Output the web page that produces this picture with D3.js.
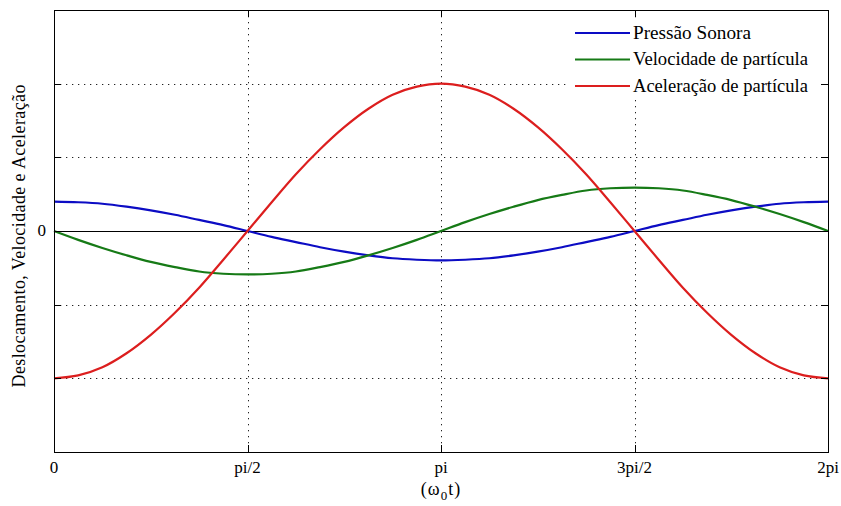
<!DOCTYPE html>
<html>
<head>
<meta charset="utf-8">
<script src="https://cdn.jsdelivr.net/npm/d3@7"></script>
<style>
  html, body { margin: 0; padding: 0; background: #fff; }
</style>
</head>
<body>
<svg id="chart" width="841" height="506"></svg>
<script>
/* Phase (in units of pi) and the three curves */
var phase = [0, 0.0625, 0.125, 0.1875, 0.25, 0.3125, 0.375, 0.4375, 0.5,
             0.5625, 0.625, 0.6875, 0.75, 0.8125, 0.875, 0.9375, 1,
             1.0625, 1.125, 1.1875, 1.25, 1.3125, 1.375, 1.4375, 1.5,
             1.5625, 1.625, 1.6875, 1.75, 1.8125, 1.875, 1.9375, 2];
var pressao = [0.40, 0.39, 0.37, 0.33, 0.28, 0.22, 0.15, 0.08, 0,
               -0.08, -0.15, -0.22, -0.28, -0.33, -0.37, -0.39, -0.40,
               -0.39, -0.37, -0.33, -0.28, -0.22, -0.15, -0.08, 0,
               0.08, 0.15, 0.22, 0.28, 0.33, 0.37, 0.39, 0.40];
var velocidade = [0, -0.12, -0.23, -0.33, -0.42, -0.49, -0.55, -0.58, -0.59,
                  -0.58, -0.55, -0.49, -0.42, -0.33, -0.23, -0.12, 0,
                  0.12, 0.23, 0.33, 0.42, 0.49, 0.55, 0.58, 0.59,
                  0.58, 0.55, 0.49, 0.42, 0.33, 0.23, 0.12, 0];
var aceleracao = [-2, -1.96, -1.85, -1.66, -1.41, -1.11, -0.77, -0.39, 0,
                  0.39, 0.77, 1.11, 1.41, 1.66, 1.85, 1.96, 2,
                  1.96, 1.85, 1.66, 1.41, 1.11, 0.77, 0.39, 0,
                  -0.39, -0.77, -1.11, -1.41, -1.66, -1.85, -1.96, -2];

var xTicks = [0, 0.5, 1, 1.5, 2];
var xTickLabels = ['0', 'pi/2', 'pi', '3pi/2', '2pi'];
var yTicks = [-2, -1, 0, 1, 2];
var yTickLabels = ['', '', '0', '', ''];

var seriesNames = ['Pressão Sonora', 'Velocidade de partícula', 'Aceleração de partícula'];
var seriesData = [pressao, velocidade, aceleracao];
var seriesColors = ['#0c0cc4', '#167a16', '#dc1e1e'];

(function () {
  'use strict';

  var FONT = 'Liberation Serif';
  var box = { left: 54, right: 828, top: 10, bottom: 452 };
  var svg = d3.select('#chart');

  var x = d3.scaleLinear().domain([0, 2]).range([box.left, box.right]);
  var y = d3.scaleLinear().domain([-3, 3]).range([box.bottom, box.top]);

  function label(sel) {
    return sel.attr('font-family', FONT).attr('fill', '#000');
  }

  /* ---- dotted grid -------------------------------------------------------- */
  var grid = svg.append('g').attr('stroke', '#222').attr('stroke-width', 1)
    .attr('stroke-dasharray', '1.3 4.7');
  grid.selectAll('line.gx').data(xTicks.slice(1, -1)).enter().append('line')
    .attr('x1', function (d) { return Math.round(x(d)) + 0.5; })
    .attr('x2', function (d) { return Math.round(x(d)) + 0.5; })
    .attr('y1', box.top).attr('y2', box.bottom);
  grid.selectAll('line.gy').data(yTicks).enter().append('line')
    .attr('y1', function (d) { return Math.round(y(d)) + 0.5; })
    .attr('y2', function (d) { return Math.round(y(d)) + 0.5; })
    .attr('x1', box.left).attr('x2', box.right);

  /* ---- zero line ---------------------------------------------------------- */
  svg.append('line')
    .attr('x1', box.left).attr('x2', box.right)
    .attr('y1', Math.round(y(0)) + 0.5).attr('y2', Math.round(y(0)) + 0.5)
    .attr('stroke', '#000').attr('stroke-width', 1);

  /* ---- curves ------------------------------------------------------------- */
  var line = d3.line()
    .x(function (d, i) { return x(phase[i]); })
    .y(function (d) { return y(d); })
    .curve(d3.curveCatmullRom);

  var plot = svg.append('g');
  seriesData.forEach(function (vals, k) {
    plot.append('path').datum(vals)
      .attr('d', line)
      .attr('fill', 'none')
      .attr('stroke', seriesColors[k])
      .attr('stroke-width', 2.2);
  });

  /* ---- legend (white, borderless, over the grid) -------------------------- */
  var lg = svg.append('g');
  lg.append('rect')
    .attr('x', 568).attr('y', 18).attr('width', 256).attr('height', 80)
    .attr('fill', '#fff');
  var nameLen = [118, 175, 175];
  seriesNames.forEach(function (name, k) {
    var ly = 33 + k * 26.5;
    lg.append('line')
      .attr('x1', 575).attr('x2', 630).attr('y1', ly).attr('y2', ly)
      .attr('stroke', seriesColors[k]).attr('stroke-width', 2.2);
    label(lg.append('text'))
      .attr('x', 633).attr('y', ly + 5.5)
      .attr('font-size', 18)
      .attr('textLength', nameLen[k]).attr('lengthAdjust', 'spacingAndGlyphs')
      .text(name);
  });

  /* ---- axes box with inward ticks ----------------------------------------- */
  var ax = svg.append('g').attr('stroke', '#000').attr('stroke-width', 1);
  ax.append('rect')
    .attr('x', box.left + 0.5).attr('y', box.top + 0.5)
    .attr('width', box.right - box.left).attr('height', box.bottom - box.top)
    .attr('fill', 'none');
  xTicks.forEach(function (d) {
    var px = Math.round(x(d)) + 0.5;
    ax.append('line').attr('x1', px).attr('x2', px).attr('y1', box.bottom).attr('y2', box.bottom - 7);
    ax.append('line').attr('x1', px).attr('x2', px).attr('y1', box.top).attr('y2', box.top + 7);
  });
  yTicks.forEach(function (d) {
    var py = Math.round(y(d)) + 0.5;
    ax.append('line').attr('y1', py).attr('y2', py).attr('x1', box.left).attr('x2', box.left + 7);
    ax.append('line').attr('y1', py).attr('y2', py).attr('x1', box.right).attr('x2', box.right - 7);
  });

  /* ---- tick labels -------------------------------------------------------- */
  label(svg.append('g').selectAll('text').data(xTicks).enter().append('text'))
    .attr('x', function (d) { return x(d); })
    .attr('y', box.bottom + 21)
    .attr('text-anchor', 'middle')
    .attr('font-size', 17)
    .text(function (d, i) { return xTickLabels[i]; });

  label(svg.append('g').selectAll('text').data(yTicks).enter().append('text'))
    .attr('x', box.left - 8)
    .attr('y', function (d) { return y(d) + 5; })
    .attr('text-anchor', 'end')
    .attr('font-size', 17)
    .text(function (d, i) { return yTickLabels[i]; });

  /* ---- axis titles -------------------------------------------------------- */
  var xl = label(svg.append('text'))
    .attr('x', x(1)).attr('y', 495)
    .attr('text-anchor', 'middle')
    .attr('font-size', 18)
    .attr('letter-spacing', 1);
  xl.append('tspan').text('(ω');
  xl.append('tspan').attr('font-size', 13).attr('dy', 5).text('0');
  xl.append('tspan').attr('dy', -5).text('t)');

  label(svg.append('text'))
    .attr('transform', 'translate(25,236) rotate(-90)')
    .attr('text-anchor', 'middle')
    .attr('font-size', 18)
    .attr('textLength', 303).attr('lengthAdjust', 'spacing')
    .text('Deslocamento, Velocidade e Aceleração');
})();
</script>
</body>
</html>
